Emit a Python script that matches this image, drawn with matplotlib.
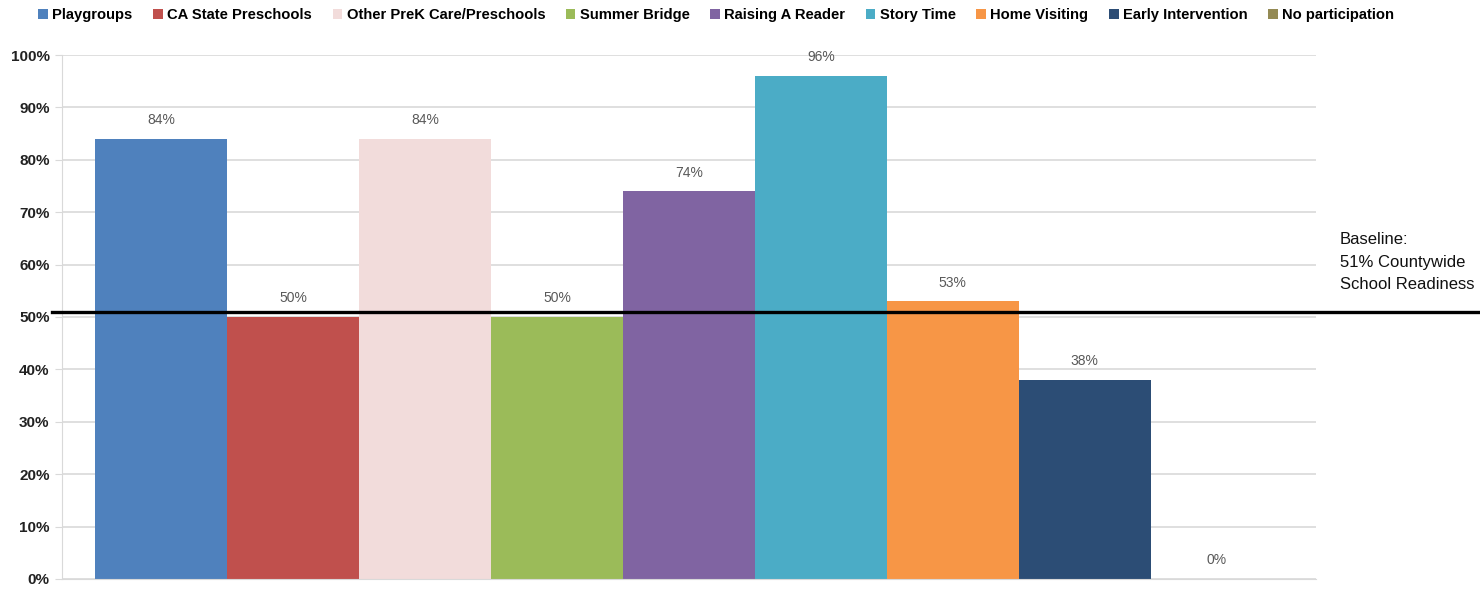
import matplotlib.pyplot as plt
import matplotlib.transforms as mtransforms
import numpy as np

programs = ["Playgroups", "CA State Preschools", "Other PreK Care/Preschools",
            "Summer Bridge", "Raising A Reader", "Story Time", "Home Visiting",
            "Early Intervention", "No participation"]
readiness = [84, 50, 84, 50, 74, 96, 53, 38, 0]
colors = ["#4F81BD", "#C0504D", "#F2DCDB", "#9BBB59", "#8064A2",
          "#4BACC6", "#F79646", "#2C4D75", "#948A54"]
baseline = 51
yticks = list(range(0, 101, 10))

plt.rcParams['font.family'] = ['Liberation Sans', 'DejaVu Sans']

fig = plt.figure(figsize=(14.8, 5.89), dpi=100)
ax = fig.add_axes([0.0419, 0.017, 0.889 - 0.0419, 0.9066 - 0.017])

x = np.arange(len(programs))
bars = ax.bar(x, readiness, width=1.0, color=colors, label=programs, zorder=2)

for xi, v in zip(x, readiness):
    ax.text(xi, v + 2.2, f"{v}%", ha="center", va="bottom", fontsize=10, color="#595959")

ax.set_xlim(-0.75, 8.75)
ax.set_ylim(0, 100)
ax.set_yticks(yticks)
ax.set_yticklabels([f"{t}%" for t in yticks], fontsize=11, fontweight="bold", color="#222222")
ax.set_xticks([])
ax.yaxis.grid(True, color="#D9D9D9", linewidth=1.2, zorder=0)
ax.tick_params(axis="y", length=5, color="#D9D9D9", pad=4)
for s in ["top", "right"]:
    ax.spines[s].set_visible(False)
ax.spines["left"].set_color("#D9D9D9")
ax.spines["bottom"].set_color("#D9D9D9")

# baseline line running past the plot area
trans = mtransforms.blended_transform_factory(fig.transFigure, ax.transData)
ax.plot([52 / 1480, 1.0], [baseline, baseline], color="black", linewidth=2.4,
        transform=trans, clip_on=False, zorder=3)
fig.text(1340 / 1480, 1 - 262 / 589, "Baseline:\n51% Countywide\nSchool Readiness",
         ha="left", va="center", fontsize=12, linespacing=1.65, color="#111111")

fig.legend(bars, programs, loc="center", bbox_to_anchor=(0.484, 1 - 15 / 589), ncol=9,
           frameon=False, handlelength=0.65, handleheight=0.65,
           handletextpad=0.3, columnspacing=1.4, prop={'weight': 'bold', 'size': 10.6})

fig.savefig("out.png", dpi=100)
